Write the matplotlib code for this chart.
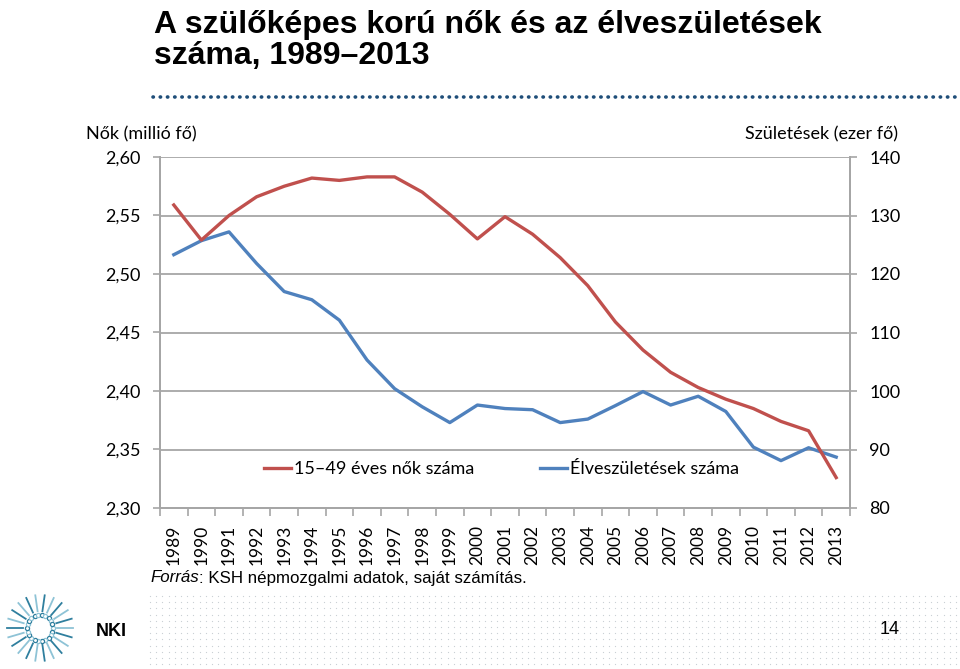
import matplotlib
matplotlib.use("Agg")
import matplotlib.pyplot as plt
import numpy as np
from matplotlib.ticker import FuncFormatter, MultipleLocator

# data
years = list(range(1989, 2014))
women = [2.559, 2.529, 2.550, 2.566, 2.575, 2.582, 2.580, 2.583, 2.583, 2.570,
         2.551, 2.530, 2.549, 2.534, 2.514, 2.490, 2.459, 2.435, 2.416, 2.403,
         2.393, 2.385, 2.374, 2.366, 2.326]
births = [123.3, 125.7, 127.2, 121.8, 117.0, 115.6, 112.1, 105.3, 100.4, 97.3,
          94.6, 97.6, 97.0, 96.8, 94.6, 95.2, 97.5, 99.9, 97.6, 99.1,
          96.5, 90.4, 88.1, 90.3, 88.7]
women_label = "15–49 éves nők száma"
births_label = "Élveszületések száma"

RED = "#C0504D"
BLUE = "#4F81BD"
GRID = "#A6A6A6"
W, H = 960, 669
body_font = ["Lato", "DejaVu Sans"]
title_font = ["Liberation Sans Narrow", "Liberation Sans", "DejaVu Sans"]
arial = ["Liberation Sans", "DejaVu Sans"]

fig = plt.figure(figsize=(9.6, 6.69), dpi=100)

# overlay in pixel coordinates for decorations
deco = fig.add_axes([0, 0, 1, 1])
deco.set_xlim(0, W)
deco.set_ylim(H, 0)
deco.axis("off")

# main chart
ax2 = fig.add_axes([160 / W, 1 - 508 / H, 690 / W, 351 / H])
ax = ax2.twinx()
ax.yaxis.tick_left()
ax2.yaxis.tick_right()
ax.set_zorder(ax2.get_zorder() + 1)
ax.patch.set_visible(False)

x = np.arange(len(years))
lb, = ax2.plot(x, births, color=BLUE, lw=2.4, solid_joinstyle="round", label=births_label)
lr, = ax.plot(x, women, color=RED, lw=2.4, solid_joinstyle="round", label=women_label)

ax.set_ylim(2.30, 2.60)
ax.yaxis.set_major_locator(MultipleLocator(0.05))
ax.yaxis.set_major_formatter(FuncFormatter(lambda v, p: f"{v:.2f}".replace(".", ",")))
ax2.set_ylim(80, 140)
ax2.yaxis.set_major_locator(MultipleLocator(10))
ax2.set_xlim(-0.5, len(years) - 0.5)
ax.set_xlim(-0.5, len(years) - 0.5)

ax2.grid(axis="y", color=GRID, lw=1.3)
ax2.set_axisbelow(True)

for a in (ax, ax2):
    for s in a.spines.values():
        s.set_color(GRID)
        s.set_linewidth(1.3)
    a.spines["top"].set_visible(False)

ax2.set_xticks(x)
ax2.set_xticklabels([str(y) for y in years], rotation=90, fontsize=12.5, family=body_font)
ax2.set_xticks(np.arange(-0.5, len(years)), minor=True)
ax2.tick_params(axis="x", which="major", length=0, pad=12)
ax2.tick_params(axis="x", which="minor", length=6, color=GRID, width=1.2)
ax.tick_params(axis="x", which="both", bottom=False, labelbottom=False)

ax.tick_params(axis="y", length=5, color=GRID, width=1.2, pad=9, labelsize=13)
ax2.tick_params(axis="y", length=5, color=GRID, width=1.2, pad=9, labelsize=13)
for lab in ax.get_yticklabels() + ax2.get_yticklabels():
    lab.set_family(body_font)

leg = ax.legend(handles=[lr, lb], loc="center", bbox_to_anchor=(0.495, 0.111),
                ncol=2, frameon=False, handlelength=1.5, handletextpad=0.2,
                columnspacing=3.6, prop={"family": body_font, "size": 13})

fig.text(86 / W, 1 - 134 / H, "Nők (millió fő)", family=body_font, fontsize=13,
         ha="left", va="center")
fig.text(898 / W, 1 - 134 / H, "Születések (ezer fő)", family=body_font, fontsize=13,
         ha="right", va="center")

# title
fig.text(154 / W, 1 - 33 / H, "A szülőképes korú nők és az élveszületések",
         family=title_font, fontweight="bold", fontsize=23, va="baseline")
fig.text(154 / W, 1 - 64 / H, "száma, 1989–2013",
         family=title_font, fontweight="bold", fontsize=23, va="baseline")

# dotted rule under the title
deco.plot([153, 955], [97, 97], color="#1F4E79", lw=2.6, linestyle=(0, (0.1, 1.9)),
          dash_capstyle="round")

# source line
fig.canvas.draw()
t1 = fig.text(150 / W, 1 - 578 / H, "Forrás", family=arial, style="italic",
              fontsize=12.2, va="center")
fig.canvas.draw()
bb = t1.get_window_extent()
fig.text(bb.x1 / W, 1 - 578 / H, ": KSH népmozgalmi adatok, saját számítás.",
         family=arial, fontsize=12.2, va="center")

# footer dot pattern
gx, gy = np.meshgrid(np.arange(150, 960, 6.2), np.arange(596, 666, 6.2))
deco.scatter(gx.ravel(), gy.ravel(), s=0.8, color="#C9CFD4", lw=0)
deco.text(890, 630, "14", family=arial, fontsize=13, ha="center", va="center")

# NKI logo (simplified)
cx, cy = 40, 628
ang = np.linspace(0, 2 * np.pi, 22, endpoint=False)
for i, a in enumerate(ang):
    c = "#2F7F9E" if i % 2 else "#8EC3D6"
    deco.plot([cx + 17 * np.cos(a), cx + 33 * np.cos(a)],
              [cy + 17 * np.sin(a), cy + 33 * np.sin(a)], color=c, lw=1.3)
    deco.scatter([cx + 13 * np.cos(a)], [cy + 13 * np.sin(a)], s=9,
                 facecolor="white", edgecolor=c, lw=0.9)
deco.text(96, 631, "NKI", family=title_font, fontweight="bold", fontsize=13,
          ha="left", va="center")

fig.savefig("out.png", dpi=100)
